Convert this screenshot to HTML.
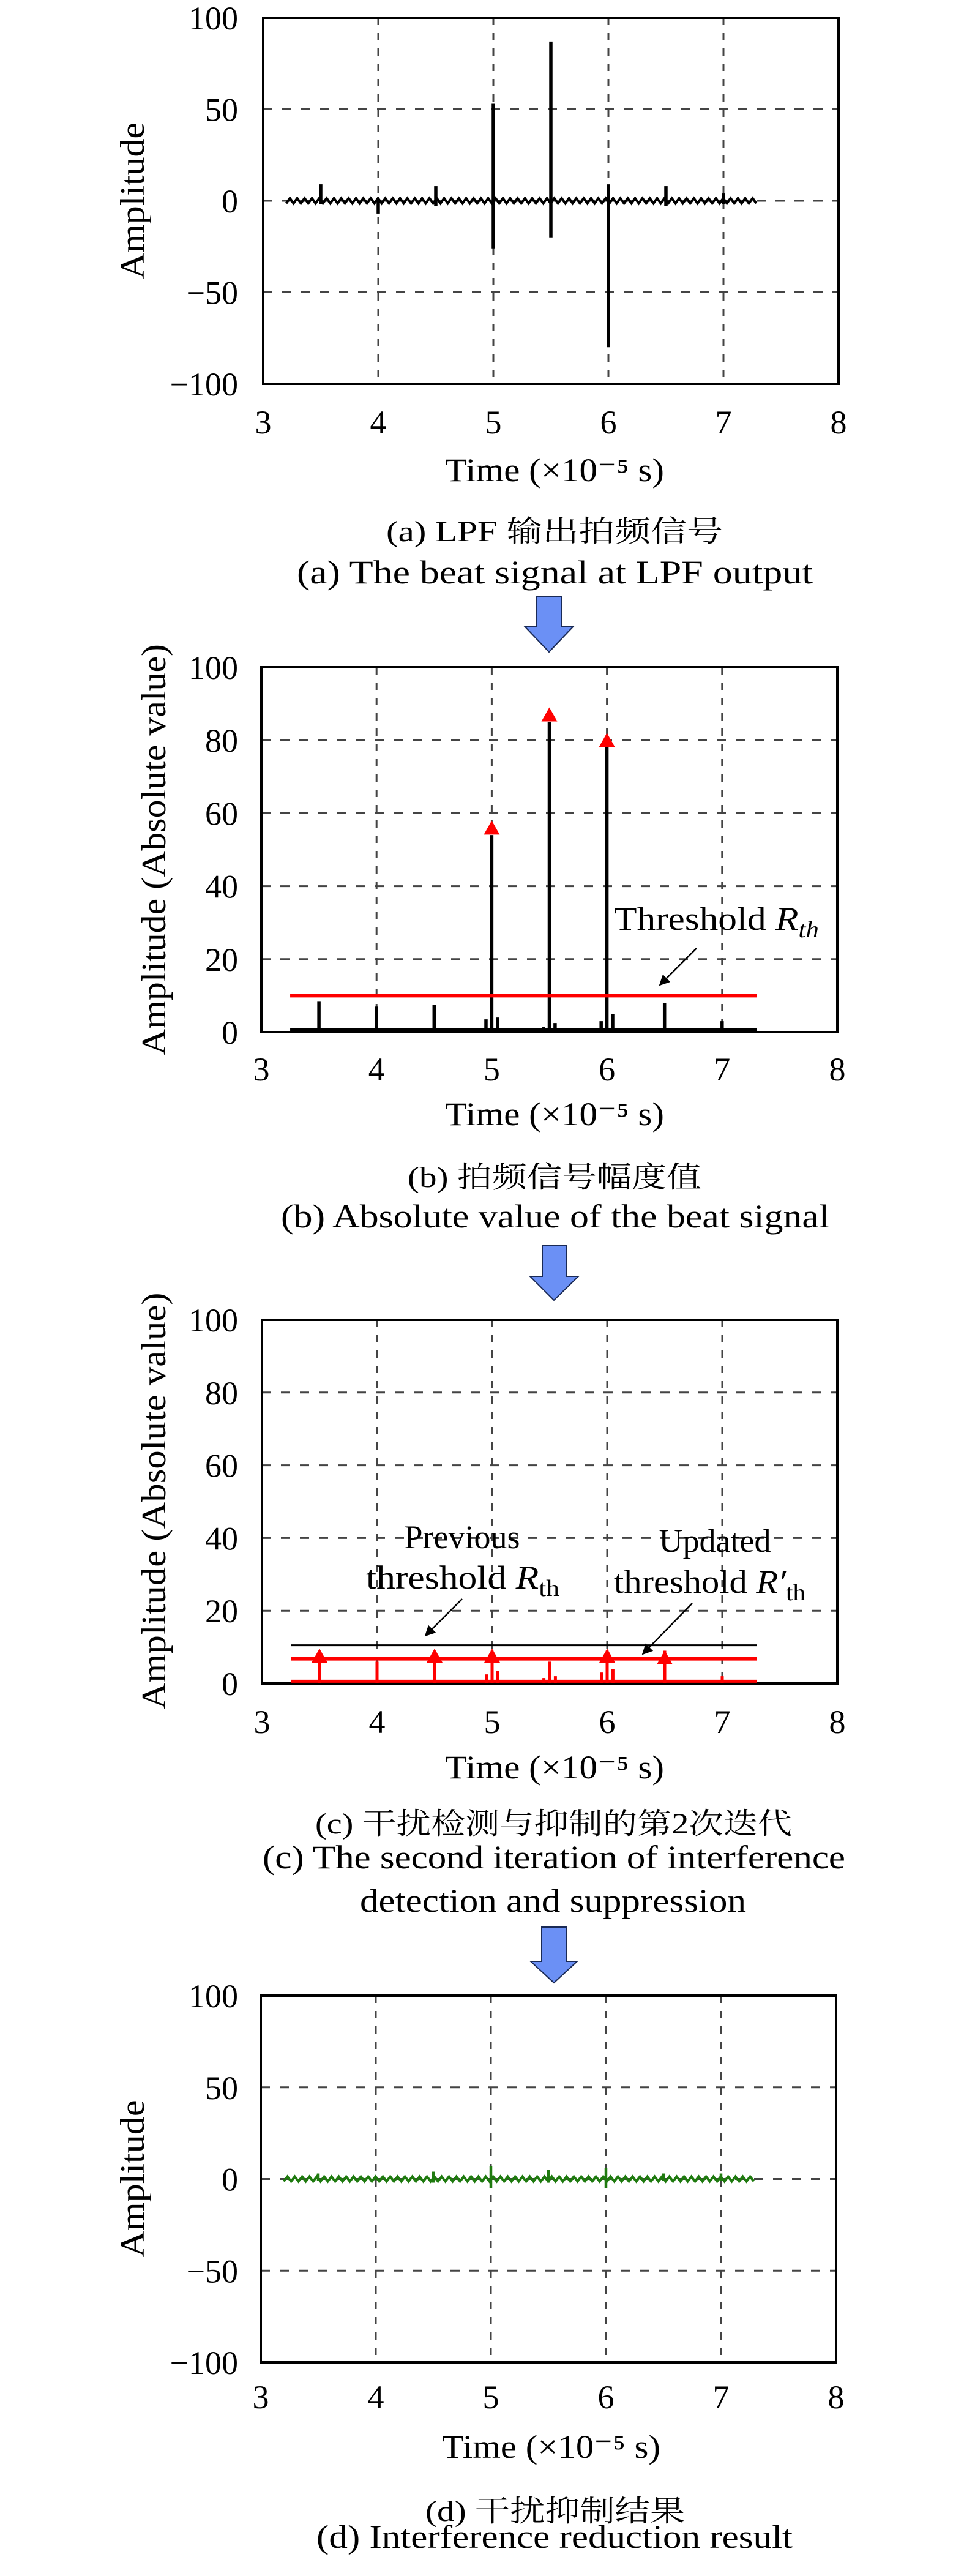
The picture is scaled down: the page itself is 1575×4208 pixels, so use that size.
<!DOCTYPE html>
<html><head><meta charset="utf-8"><style>
html,body{margin:0;padding:0;background:#fff;}
svg{display:block;}
text{font-family:"Liberation Serif","Noto Serif CJK SC",serif;fill:#000;}
</style></head><body>
<svg id="fig" width="1575" height="4208" viewBox="0 0 1575 4208" xmlns="http://www.w3.org/2000/svg">
<defs>
<marker id="ah" viewBox="0 0 10 10" refX="9" refY="5" markerWidth="7" markerHeight="7" orient="auto"><path d="M0,0 L10,5 L0,10 z" fill="#000"/></marker>
</defs>
<g id="marks"></g>

<text transform="translate(235,328) rotate(-90)" text-anchor="middle" font-size="56" textLength="256" lengthAdjust="spacingAndGlyphs">Amplitude</text>
<text x="727" y="786" font-size="54" textLength="358" lengthAdjust="spacingAndGlyphs">Time (×10⁻⁵ s)</text>
<text x="631" y="884" font-size="48" textLength="550" lengthAdjust="spacingAndGlyphs">(a) LPF 输出拍频信号</text>
<text x="485" y="953" font-size="54" textLength="843" lengthAdjust="spacingAndGlyphs">(a) The beat signal at LPF output</text>

<text transform="translate(270,1388) rotate(-90)" text-anchor="middle" font-size="56" textLength="672" lengthAdjust="spacingAndGlyphs">Amplitude (Absolute value)</text>
<text x="727" y="1838" font-size="54" textLength="358" lengthAdjust="spacingAndGlyphs">Time (×10⁻⁵ s)</text>
<text x="666" y="1939" font-size="48" textLength="480" lengthAdjust="spacingAndGlyphs">(b) 拍频信号幅度值</text>
<text x="459" y="2005" font-size="54" textLength="896" lengthAdjust="spacingAndGlyphs">(b) Absolute value of the beat signal</text>
<text x="1003" y="1519" font-size="54" textLength="335" lengthAdjust="spacingAndGlyphs">Threshold <tspan font-style="italic">R</tspan><tspan font-style="italic" font-size="38" dy="12">th</tspan></text>
<line x1="1138" y1="1549" x2="1078" y2="1609" stroke="#000" stroke-width="2.5" marker-end="url(#ah)"/>

<text transform="translate(270,2452) rotate(-90)" text-anchor="middle" font-size="56" textLength="681" lengthAdjust="spacingAndGlyphs">Amplitude (Absolute value)</text>
<text x="727" y="2905" font-size="54" textLength="358" lengthAdjust="spacingAndGlyphs">Time (×10⁻⁵ s)</text>
<text x="515" y="2995" font-size="48" textLength="779" lengthAdjust="spacingAndGlyphs">(c) 干扰检测与抑制的第2次迭代</text>
<text x="429" y="3052" font-size="54" textLength="952" lengthAdjust="spacingAndGlyphs">(c) The second iteration of interference</text>
<text x="588" y="3123" font-size="54" textLength="631" lengthAdjust="spacingAndGlyphs">detection and suppression</text>
<text x="755" y="2529" text-anchor="middle" font-size="54">Previous</text>
<text x="598" y="2595" font-size="54" textLength="316" lengthAdjust="spacingAndGlyphs">threshold <tspan font-style="italic">R</tspan><tspan font-size="38" dy="12">th</tspan></text>
<line x1="755" y1="2612" x2="695" y2="2672" stroke="#000" stroke-width="2.5" marker-end="url(#ah)"/>
<text x="1168" y="2535" text-anchor="middle" font-size="54">Updated</text>
<text x="1003" y="2602" font-size="54" textLength="313" lengthAdjust="spacingAndGlyphs">threshold <tspan font-style="italic">R′</tspan><tspan font-size="38" dy="12">th</tspan></text>
<line x1="1131" y1="2619" x2="1050" y2="2702" stroke="#000" stroke-width="2.5" marker-end="url(#ah)"/>

<text transform="translate(235,3559) rotate(-90)" text-anchor="middle" font-size="56" textLength="257" lengthAdjust="spacingAndGlyphs">Amplitude</text>
<text x="722" y="4015" font-size="54" textLength="357" lengthAdjust="spacingAndGlyphs">Time (×10⁻⁵ s)</text>
<text x="695" y="4118" font-size="48" textLength="424" lengthAdjust="spacingAndGlyphs">(d) 干扰抑制结果</text>
<text x="517" y="4162" font-size="54" textLength="778" lengthAdjust="spacingAndGlyphs">(d) Interference reduction result</text>

<path d="M877,974 L917,974 L917,1023 L937,1023 L897,1065 L857,1023 L877,1023 Z" fill="#6b90f5" stroke="#1a2a55" stroke-width="2"/>
<path d="M886,2035 L925,2035 L925,2085 L945,2085 L905,2124 L866,2085 L886,2085 Z" fill="#6b90f5" stroke="#1a2a55" stroke-width="2"/>
<path d="M885,3148 L925,3148 L925,3204 L943,3204 L905,3239 L867,3204 L885,3204 Z" fill="#6b90f5" stroke="#1a2a55" stroke-width="2"/>
</svg>
<script>
const xTicks = [3, 4, 5, 6, 7, 8];
const yTicksSigned = [-100, -50, 0, 50, 100];
const yTicksAbs = [0, 20, 40, 60, 80, 100];
const tStart = 3.2, tEnd = 7.3;
const aSpikeT  = [3.5, 4.0, 4.5, 5.0, 5.5, 6.0, 6.5, 7.0];
const aSpikeHi = [9, 1, 8, 53, 87, 9, 8, 4];
const aSpikeLo = [-2, -7, -3, -26, -20, -80, -3, -2];
const aRipple = 1.4;
const bSpikeT  = [3.5, 4.0, 4.5, 4.95, 5.0, 5.05, 5.45, 5.5, 5.55, 5.95, 6.0, 6.05, 6.5, 7.0];
const bSpikeV  = [8.5, 7, 7.5, 3.5, 54, 4, 1.5, 85, 2.5, 3, 79, 5, 8, 3];
const bMarkT   = [5.0, 5.5, 6.0];
const bMarkV   = [58, 89, 82];
const bThreshold = 10;
const cSpikeT  = [3.5, 4.0, 4.5, 4.95, 5.0, 5.05, 5.45, 5.5, 5.55, 5.95, 6.0, 6.05, 6.5, 7.0];
const cSpikeV  = [9, 6, 9, 2.5, 9, 3.5, 1.5, 6, 2, 3, 9, 4, 9, 2];
const cMarkT   = [3.5, 4.5, 5.0, 6.0, 6.5];
const cMarkV   = [9.6, 9.6, 9.6, 9.6, 9.1];
const cPrevThreshold = 10.5;
const cNewThreshold = 6.8;
const dSpikeT  = [3.5, 4.5, 5.0, 5.5, 6.0, 6.5, 7.0];
const dSpikeHi = [3, 4, 7, 5, 6, 3, 3];
const dSpikeLo = [-1, -2, -5, -2, -5, -1, -1];
const dRipple = 1.3;

const NS = "http://www.w3.org/2000/svg";
const marks = document.getElementById('marks');
const P = {
  a: {x0:430, x1:1370, yt:29,   yb:627,  vmin:-100, vmax:100, ticks:yTicksSigned, tickY:689},
  b: {x0:427, x1:1368, yt:1090, yb:1686, vmin:0,    vmax:100, ticks:yTicksAbs,    tickY:1746},
  c: {x0:428, x1:1368, yt:2156, yb:2750, vmin:0,    vmax:100, ticks:yTicksAbs,    tickY:2812},
  d: {x0:426, x1:1366, yt:3260, yb:3859, vmin:-100, vmax:100, ticks:yTicksSigned, tickY:3915}
};
function X(p,t){ return p.x0 + (t - 3) * (p.x1 - p.x0) / 5; }
function Y(p,v){ return p.yb + (v - p.vmin) * (p.yt - p.yb) / (p.vmax - p.vmin); }
function el(tag, attrs){ const e = document.createElementNS(NS, tag); for (const k in attrs) e.setAttribute(k, attrs[k]); marks.appendChild(e); return e; }

function frame(key, p){
  p.ticks.forEach(v => {
    const g = el('line', {x1:p.x0, x2:p.x1, y1:Y(p,v), y2:Y(p,v), stroke:'#444', 'stroke-width':3, 'stroke-dasharray':'15 16'});
    
    
    const t = el('text', {x:389, y:Y(p,v)+19, 'text-anchor':'end', 'font-size':54});
    t.textContent = v < 0 ? '\u2212' + Math.abs(v) : String(v);
    
    
  });
  xTicks.forEach(tv => {
    if (tv > 3 && tv < 8) {
      const g = el('line', {x1:X(p,tv), x2:X(p,tv), y1:p.yt, y2:p.yb, stroke:'#444', 'stroke-width':3, 'stroke-dasharray':'12 13'});
      
      
    }
    const t = el('text', {x:X(p,tv), y:p.tickY+19, 'text-anchor':'middle', 'font-size':54});
    t.textContent = String(tv);
    
    
  });
  const r = el('rect', {x:p.x0, y:p.yt, width:p.x1-p.x0, height:p.yb-p.yt, fill:'none', stroke:'#000', 'stroke-width':4});
  
  
}
function ripple(key, p, amp, color){
  let pts = [], i = 0;
  const step = 6 / ((p.x1 - p.x0) / 5);
  for (let t = tStart; t <= tEnd; t += step, i++) pts.push(X(p,t) + ',' + Y(p, (i % 2 ? amp : -amp)));
  const l = el('polyline', {points:pts.join(' '), fill:'none', stroke:color, 'stroke-width':4});
  
  
}
function spike(key, p, t, lo, hi, color, w){
  const l = el('line', {x1:X(p,t), x2:X(p,t), y1:Y(p,lo), y2:Y(p,hi), stroke:color, 'stroke-width':w});
  
  
}
function tri(key, p, t, v){
  const x = X(p,t), y = Y(p,v);
  const tr = el('polygon', {points:(x)+','+(y)+' '+(x-13)+','+(y+23)+' '+(x+13)+','+(y+23), fill:'#f00'});
  
  
}
function hline(key, p, v, color, w, name){
  const l = el('line', {x1:X(p,3.25), x2:X(p,tEnd), y1:Y(p,v), y2:Y(p,v), stroke:color, 'stroke-width':w});
  
  
}

frame('a', P.a);
ripple('a', P.a, aRipple, '#000');
aSpikeT.forEach((t,i) => spike('a', P.a, t, aSpikeLo[i], aSpikeHi[i], '#000', 5.5));
frame('b', P.b);
hline('b', P.b, 0.6, '#000', 5, 'baseline-b');
bSpikeT.forEach((t,i) => spike('b', P.b, t, 0, bSpikeV[i], '#000', 5.5));
hline('b', P.b, bThreshold, '#f00', 6, 'threshold-line-b');
bMarkT.forEach((t,i) => tri('b', P.b, t, bMarkV[i]));
frame('c', P.c);
hline('c', P.c, 0.6, '#f00', 5, 'baseline-c');
cSpikeT.forEach((t,i) => spike('c', P.c, t, 0, cSpikeV[i], '#f00', 5));
hline('c', P.c, cPrevThreshold, '#000', 3, 'previous-threshold-line');
hline('c', P.c, cNewThreshold, '#f00', 6, 'updated-threshold-line');
cMarkT.forEach((t,i) => tri('c', P.c, t, cMarkV[i]));
frame('d', P.d);
ripple('d', P.d, dRipple, '#1f7a0f');
dSpikeT.forEach((t,i) => spike('d', P.d, t, dSpikeLo[i], dSpikeHi[i], '#1f7a0f', 4.5));
</script>
</body></html>
